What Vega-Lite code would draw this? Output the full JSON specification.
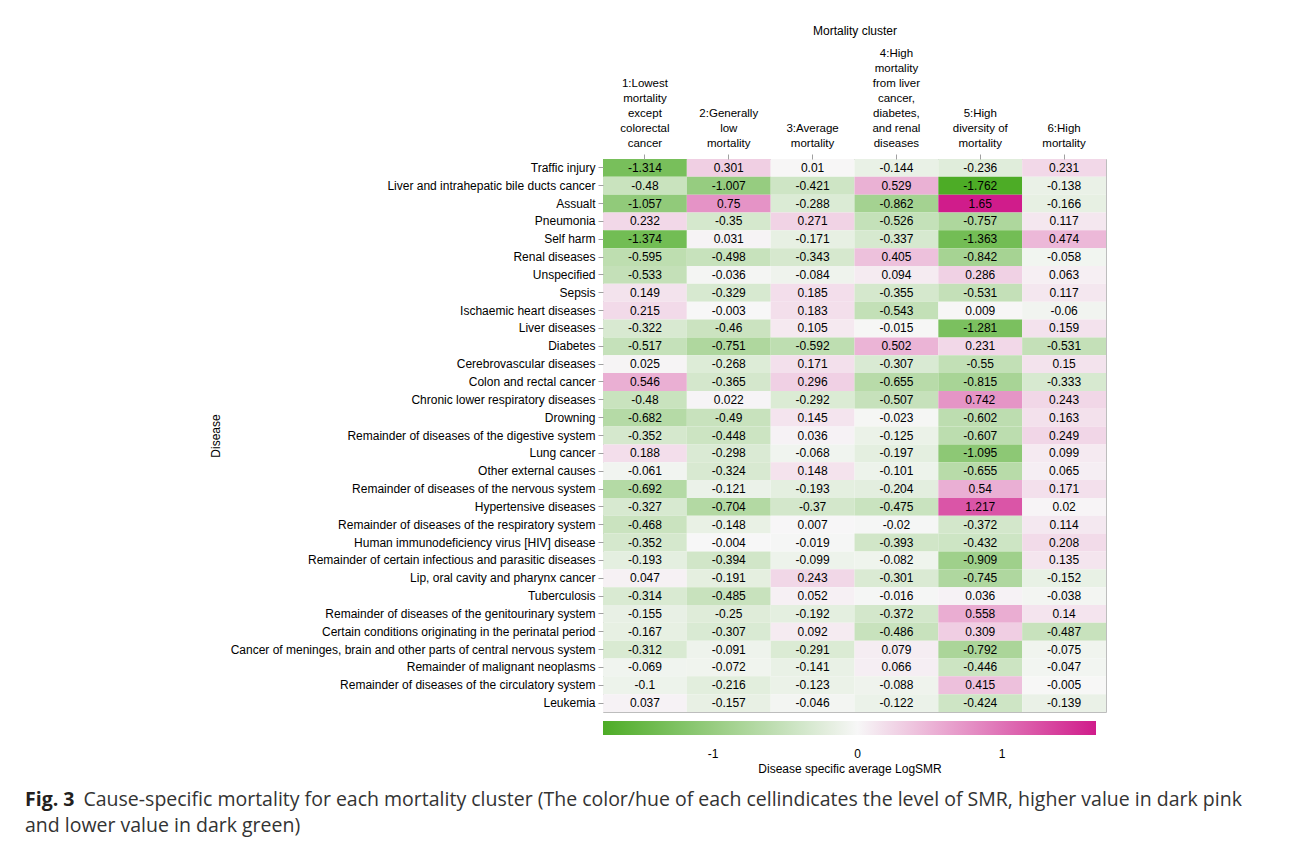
{
  "$schema": "https://vega.github.io/schema/vega-lite/v6.json",
  "width": 503,
  "height": 553,
  "padding": {"left": 25, "top": 24, "right": 5, "bottom": 8},
  "background": "white",
  "datasets": {
    "cells": [
      {"disease": "Traffic injury", "cluster": "1", "logsmr": -1.314},
      {"disease": "Traffic injury", "cluster": "2", "logsmr": 0.301},
      {"disease": "Traffic injury", "cluster": "3", "logsmr": 0.01},
      {"disease": "Traffic injury", "cluster": "4", "logsmr": -0.144},
      {"disease": "Traffic injury", "cluster": "5", "logsmr": -0.236},
      {"disease": "Traffic injury", "cluster": "6", "logsmr": 0.231},
      {"disease": "Liver and intrahepatic bile ducts cancer", "cluster": "1", "logsmr": -0.48},
      {"disease": "Liver and intrahepatic bile ducts cancer", "cluster": "2", "logsmr": -1.007},
      {"disease": "Liver and intrahepatic bile ducts cancer", "cluster": "3", "logsmr": -0.421},
      {"disease": "Liver and intrahepatic bile ducts cancer", "cluster": "4", "logsmr": 0.529},
      {"disease": "Liver and intrahepatic bile ducts cancer", "cluster": "5", "logsmr": -1.762},
      {"disease": "Liver and intrahepatic bile ducts cancer", "cluster": "6", "logsmr": -0.138},
      {"disease": "Assualt", "cluster": "1", "logsmr": -1.057},
      {"disease": "Assualt", "cluster": "2", "logsmr": 0.75},
      {"disease": "Assualt", "cluster": "3", "logsmr": -0.288},
      {"disease": "Assualt", "cluster": "4", "logsmr": -0.862},
      {"disease": "Assualt", "cluster": "5", "logsmr": 1.65},
      {"disease": "Assualt", "cluster": "6", "logsmr": -0.166},
      {"disease": "Pneumonia", "cluster": "1", "logsmr": 0.232},
      {"disease": "Pneumonia", "cluster": "2", "logsmr": -0.35},
      {"disease": "Pneumonia", "cluster": "3", "logsmr": 0.271},
      {"disease": "Pneumonia", "cluster": "4", "logsmr": -0.526},
      {"disease": "Pneumonia", "cluster": "5", "logsmr": -0.757},
      {"disease": "Pneumonia", "cluster": "6", "logsmr": 0.117},
      {"disease": "Self harm", "cluster": "1", "logsmr": -1.374},
      {"disease": "Self harm", "cluster": "2", "logsmr": 0.031},
      {"disease": "Self harm", "cluster": "3", "logsmr": -0.171},
      {"disease": "Self harm", "cluster": "4", "logsmr": -0.337},
      {"disease": "Self harm", "cluster": "5", "logsmr": -1.363},
      {"disease": "Self harm", "cluster": "6", "logsmr": 0.474},
      {"disease": "Renal diseases", "cluster": "1", "logsmr": -0.595},
      {"disease": "Renal diseases", "cluster": "2", "logsmr": -0.498},
      {"disease": "Renal diseases", "cluster": "3", "logsmr": -0.343},
      {"disease": "Renal diseases", "cluster": "4", "logsmr": 0.405},
      {"disease": "Renal diseases", "cluster": "5", "logsmr": -0.842},
      {"disease": "Renal diseases", "cluster": "6", "logsmr": -0.058},
      {"disease": "Unspecified", "cluster": "1", "logsmr": -0.533},
      {"disease": "Unspecified", "cluster": "2", "logsmr": -0.036},
      {"disease": "Unspecified", "cluster": "3", "logsmr": -0.084},
      {"disease": "Unspecified", "cluster": "4", "logsmr": 0.094},
      {"disease": "Unspecified", "cluster": "5", "logsmr": 0.286},
      {"disease": "Unspecified", "cluster": "6", "logsmr": 0.063},
      {"disease": "Sepsis", "cluster": "1", "logsmr": 0.149},
      {"disease": "Sepsis", "cluster": "2", "logsmr": -0.329},
      {"disease": "Sepsis", "cluster": "3", "logsmr": 0.185},
      {"disease": "Sepsis", "cluster": "4", "logsmr": -0.355},
      {"disease": "Sepsis", "cluster": "5", "logsmr": -0.531},
      {"disease": "Sepsis", "cluster": "6", "logsmr": 0.117},
      {"disease": "Ischaemic heart diseases", "cluster": "1", "logsmr": 0.215},
      {"disease": "Ischaemic heart diseases", "cluster": "2", "logsmr": -0.003},
      {"disease": "Ischaemic heart diseases", "cluster": "3", "logsmr": 0.183},
      {"disease": "Ischaemic heart diseases", "cluster": "4", "logsmr": -0.543},
      {"disease": "Ischaemic heart diseases", "cluster": "5", "logsmr": 0.009},
      {"disease": "Ischaemic heart diseases", "cluster": "6", "logsmr": -0.06},
      {"disease": "Liver diseases", "cluster": "1", "logsmr": -0.322},
      {"disease": "Liver diseases", "cluster": "2", "logsmr": -0.46},
      {"disease": "Liver diseases", "cluster": "3", "logsmr": 0.105},
      {"disease": "Liver diseases", "cluster": "4", "logsmr": -0.015},
      {"disease": "Liver diseases", "cluster": "5", "logsmr": -1.281},
      {"disease": "Liver diseases", "cluster": "6", "logsmr": 0.159},
      {"disease": "Diabetes", "cluster": "1", "logsmr": -0.517},
      {"disease": "Diabetes", "cluster": "2", "logsmr": -0.751},
      {"disease": "Diabetes", "cluster": "3", "logsmr": -0.592},
      {"disease": "Diabetes", "cluster": "4", "logsmr": 0.502},
      {"disease": "Diabetes", "cluster": "5", "logsmr": 0.231},
      {"disease": "Diabetes", "cluster": "6", "logsmr": -0.531},
      {"disease": "Cerebrovascular diseases", "cluster": "1", "logsmr": 0.025},
      {"disease": "Cerebrovascular diseases", "cluster": "2", "logsmr": -0.268},
      {"disease": "Cerebrovascular diseases", "cluster": "3", "logsmr": 0.171},
      {"disease": "Cerebrovascular diseases", "cluster": "4", "logsmr": -0.307},
      {"disease": "Cerebrovascular diseases", "cluster": "5", "logsmr": -0.55},
      {"disease": "Cerebrovascular diseases", "cluster": "6", "logsmr": 0.15},
      {"disease": "Colon and rectal cancer", "cluster": "1", "logsmr": 0.546},
      {"disease": "Colon and rectal cancer", "cluster": "2", "logsmr": -0.365},
      {"disease": "Colon and rectal cancer", "cluster": "3", "logsmr": 0.296},
      {"disease": "Colon and rectal cancer", "cluster": "4", "logsmr": -0.655},
      {"disease": "Colon and rectal cancer", "cluster": "5", "logsmr": -0.815},
      {"disease": "Colon and rectal cancer", "cluster": "6", "logsmr": -0.333},
      {"disease": "Chronic lower respiratory diseases", "cluster": "1", "logsmr": -0.48},
      {"disease": "Chronic lower respiratory diseases", "cluster": "2", "logsmr": 0.022},
      {"disease": "Chronic lower respiratory diseases", "cluster": "3", "logsmr": -0.292},
      {"disease": "Chronic lower respiratory diseases", "cluster": "4", "logsmr": -0.507},
      {"disease": "Chronic lower respiratory diseases", "cluster": "5", "logsmr": 0.742},
      {"disease": "Chronic lower respiratory diseases", "cluster": "6", "logsmr": 0.243},
      {"disease": "Drowning", "cluster": "1", "logsmr": -0.682},
      {"disease": "Drowning", "cluster": "2", "logsmr": -0.49},
      {"disease": "Drowning", "cluster": "3", "logsmr": 0.145},
      {"disease": "Drowning", "cluster": "4", "logsmr": -0.023},
      {"disease": "Drowning", "cluster": "5", "logsmr": -0.602},
      {"disease": "Drowning", "cluster": "6", "logsmr": 0.163},
      {"disease": "Remainder of diseases of the digestive system", "cluster": "1", "logsmr": -0.352},
      {"disease": "Remainder of diseases of the digestive system", "cluster": "2", "logsmr": -0.448},
      {"disease": "Remainder of diseases of the digestive system", "cluster": "3", "logsmr": 0.036},
      {"disease": "Remainder of diseases of the digestive system", "cluster": "4", "logsmr": -0.125},
      {"disease": "Remainder of diseases of the digestive system", "cluster": "5", "logsmr": -0.607},
      {"disease": "Remainder of diseases of the digestive system", "cluster": "6", "logsmr": 0.249},
      {"disease": "Lung cancer", "cluster": "1", "logsmr": 0.188},
      {"disease": "Lung cancer", "cluster": "2", "logsmr": -0.298},
      {"disease": "Lung cancer", "cluster": "3", "logsmr": -0.068},
      {"disease": "Lung cancer", "cluster": "4", "logsmr": -0.197},
      {"disease": "Lung cancer", "cluster": "5", "logsmr": -1.095},
      {"disease": "Lung cancer", "cluster": "6", "logsmr": 0.099},
      {"disease": "Other external causes", "cluster": "1", "logsmr": -0.061},
      {"disease": "Other external causes", "cluster": "2", "logsmr": -0.324},
      {"disease": "Other external causes", "cluster": "3", "logsmr": 0.148},
      {"disease": "Other external causes", "cluster": "4", "logsmr": -0.101},
      {"disease": "Other external causes", "cluster": "5", "logsmr": -0.655},
      {"disease": "Other external causes", "cluster": "6", "logsmr": 0.065},
      {"disease": "Remainder of diseases of the nervous system", "cluster": "1", "logsmr": -0.692},
      {"disease": "Remainder of diseases of the nervous system", "cluster": "2", "logsmr": -0.121},
      {"disease": "Remainder of diseases of the nervous system", "cluster": "3", "logsmr": -0.193},
      {"disease": "Remainder of diseases of the nervous system", "cluster": "4", "logsmr": -0.204},
      {"disease": "Remainder of diseases of the nervous system", "cluster": "5", "logsmr": 0.54},
      {"disease": "Remainder of diseases of the nervous system", "cluster": "6", "logsmr": 0.171},
      {"disease": "Hypertensive diseases", "cluster": "1", "logsmr": -0.327},
      {"disease": "Hypertensive diseases", "cluster": "2", "logsmr": -0.704},
      {"disease": "Hypertensive diseases", "cluster": "3", "logsmr": -0.37},
      {"disease": "Hypertensive diseases", "cluster": "4", "logsmr": -0.475},
      {"disease": "Hypertensive diseases", "cluster": "5", "logsmr": 1.217},
      {"disease": "Hypertensive diseases", "cluster": "6", "logsmr": 0.02},
      {"disease": "Remainder of diseases of the respiratory system", "cluster": "1", "logsmr": -0.468},
      {"disease": "Remainder of diseases of the respiratory system", "cluster": "2", "logsmr": -0.148},
      {"disease": "Remainder of diseases of the respiratory system", "cluster": "3", "logsmr": 0.007},
      {"disease": "Remainder of diseases of the respiratory system", "cluster": "4", "logsmr": -0.02},
      {"disease": "Remainder of diseases of the respiratory system", "cluster": "5", "logsmr": -0.372},
      {"disease": "Remainder of diseases of the respiratory system", "cluster": "6", "logsmr": 0.114},
      {"disease": "Human immunodeficiency virus [HIV] disease", "cluster": "1", "logsmr": -0.352},
      {"disease": "Human immunodeficiency virus [HIV] disease", "cluster": "2", "logsmr": -0.004},
      {"disease": "Human immunodeficiency virus [HIV] disease", "cluster": "3", "logsmr": -0.019},
      {"disease": "Human immunodeficiency virus [HIV] disease", "cluster": "4", "logsmr": -0.393},
      {"disease": "Human immunodeficiency virus [HIV] disease", "cluster": "5", "logsmr": -0.432},
      {"disease": "Human immunodeficiency virus [HIV] disease", "cluster": "6", "logsmr": 0.208},
      {"disease": "Remainder of certain infectious and parasitic diseases", "cluster": "1", "logsmr": -0.193},
      {"disease": "Remainder of certain infectious and parasitic diseases", "cluster": "2", "logsmr": -0.394},
      {"disease": "Remainder of certain infectious and parasitic diseases", "cluster": "3", "logsmr": -0.099},
      {"disease": "Remainder of certain infectious and parasitic diseases", "cluster": "4", "logsmr": -0.082},
      {"disease": "Remainder of certain infectious and parasitic diseases", "cluster": "5", "logsmr": -0.909},
      {"disease": "Remainder of certain infectious and parasitic diseases", "cluster": "6", "logsmr": 0.135},
      {"disease": "Lip, oral cavity and pharynx cancer", "cluster": "1", "logsmr": 0.047},
      {"disease": "Lip, oral cavity and pharynx cancer", "cluster": "2", "logsmr": -0.191},
      {"disease": "Lip, oral cavity and pharynx cancer", "cluster": "3", "logsmr": 0.243},
      {"disease": "Lip, oral cavity and pharynx cancer", "cluster": "4", "logsmr": -0.301},
      {"disease": "Lip, oral cavity and pharynx cancer", "cluster": "5", "logsmr": -0.745},
      {"disease": "Lip, oral cavity and pharynx cancer", "cluster": "6", "logsmr": -0.152},
      {"disease": "Tuberculosis", "cluster": "1", "logsmr": -0.314},
      {"disease": "Tuberculosis", "cluster": "2", "logsmr": -0.485},
      {"disease": "Tuberculosis", "cluster": "3", "logsmr": 0.052},
      {"disease": "Tuberculosis", "cluster": "4", "logsmr": -0.016},
      {"disease": "Tuberculosis", "cluster": "5", "logsmr": 0.036},
      {"disease": "Tuberculosis", "cluster": "6", "logsmr": -0.038},
      {"disease": "Remainder of diseases of the genitourinary system", "cluster": "1", "logsmr": -0.155},
      {"disease": "Remainder of diseases of the genitourinary system", "cluster": "2", "logsmr": -0.25},
      {"disease": "Remainder of diseases of the genitourinary system", "cluster": "3", "logsmr": -0.192},
      {"disease": "Remainder of diseases of the genitourinary system", "cluster": "4", "logsmr": -0.372},
      {"disease": "Remainder of diseases of the genitourinary system", "cluster": "5", "logsmr": 0.558},
      {"disease": "Remainder of diseases of the genitourinary system", "cluster": "6", "logsmr": 0.14},
      {"disease": "Certain conditions originating in the perinatal period", "cluster": "1", "logsmr": -0.167},
      {"disease": "Certain conditions originating in the perinatal period", "cluster": "2", "logsmr": -0.307},
      {"disease": "Certain conditions originating in the perinatal period", "cluster": "3", "logsmr": 0.092},
      {"disease": "Certain conditions originating in the perinatal period", "cluster": "4", "logsmr": -0.486},
      {"disease": "Certain conditions originating in the perinatal period", "cluster": "5", "logsmr": 0.309},
      {"disease": "Certain conditions originating in the perinatal period", "cluster": "6", "logsmr": -0.487},
      {"disease": "Cancer of meninges, brain and other parts of central nervous system", "cluster": "1", "logsmr": -0.312},
      {"disease": "Cancer of meninges, brain and other parts of central nervous system", "cluster": "2", "logsmr": -0.091},
      {"disease": "Cancer of meninges, brain and other parts of central nervous system", "cluster": "3", "logsmr": -0.291},
      {"disease": "Cancer of meninges, brain and other parts of central nervous system", "cluster": "4", "logsmr": 0.079},
      {"disease": "Cancer of meninges, brain and other parts of central nervous system", "cluster": "5", "logsmr": -0.792},
      {"disease": "Cancer of meninges, brain and other parts of central nervous system", "cluster": "6", "logsmr": -0.075},
      {"disease": "Remainder of malignant neoplasms", "cluster": "1", "logsmr": -0.069},
      {"disease": "Remainder of malignant neoplasms", "cluster": "2", "logsmr": -0.072},
      {"disease": "Remainder of malignant neoplasms", "cluster": "3", "logsmr": -0.141},
      {"disease": "Remainder of malignant neoplasms", "cluster": "4", "logsmr": 0.066},
      {"disease": "Remainder of malignant neoplasms", "cluster": "5", "logsmr": -0.446},
      {"disease": "Remainder of malignant neoplasms", "cluster": "6", "logsmr": -0.047},
      {"disease": "Remainder of diseases of the circulatory system", "cluster": "1", "logsmr": -0.1},
      {"disease": "Remainder of diseases of the circulatory system", "cluster": "2", "logsmr": -0.216},
      {"disease": "Remainder of diseases of the circulatory system", "cluster": "3", "logsmr": -0.123},
      {"disease": "Remainder of diseases of the circulatory system", "cluster": "4", "logsmr": -0.088},
      {"disease": "Remainder of diseases of the circulatory system", "cluster": "5", "logsmr": 0.415},
      {"disease": "Remainder of diseases of the circulatory system", "cluster": "6", "logsmr": -0.005},
      {"disease": "Leukemia", "cluster": "1", "logsmr": 0.037},
      {"disease": "Leukemia", "cluster": "2", "logsmr": -0.157},
      {"disease": "Leukemia", "cluster": "3", "logsmr": -0.046},
      {"disease": "Leukemia", "cluster": "4", "logsmr": -0.122},
      {"disease": "Leukemia", "cluster": "5", "logsmr": -0.424},
      {"disease": "Leukemia", "cluster": "6", "logsmr": -0.139}
    ]
  },
  "data": {"name": "cells"},
  "title": {
    "text": "Fig. 3",
    "subtitle": ["\u200b\u2003\u2003\u2003Cause-specific mortality for each mortality cluster (The color/hue of each cellindicates the level of SMR, higher value in dark pink", "and lower value in dark green)"],
    "orient": "bottom",
    "anchor": "start",
    "frame": "group",
    "dx": -578,
    "offset": 16,
    "font": "Open Sans",
    "fontSize": 19.5,
    "fontWeight": "bold",
    "color": "#231f20",
    "subtitleFont": "Open Sans",
    "subtitleFontSize": 19.5,
    "subtitleFontWeight": "normal",
    "subtitleColor": "#333333",
    "subtitleLineHeight": 26,
    "subtitlePadding": -19.5
  },
  "encoding": {
    "x": {
      "field": "cluster",
      "type": "nominal",
      "sort": null,
      "axis": {
        "orient": "top",
        "title": "Mortality cluster",
        "titlePadding": 10,
        "labelAngle": 0,
        "labelFontSize": 11.5,
        "labelLineHeight": 15,
        "labelBaseline": "bottom",
        "maxExtent": 400,
        "labelPadding": {
          "condition": [
            {"test": "datum.value == '1'", "value": 66},
            {"test": "datum.value == '4'", "value": 96},
            {"test": "datum.value == '2' || datum.value == '5'", "value": 36}
          ],
          "value": 21
        },
        "labelExpr": "datum.value == '1' ? ['1:Lowest','mortality','except','colorectal','cancer'] : datum.value == '2' ? ['2:Generally','low','mortality'] : datum.value == '3' ? ['3:Average','mortality'] : datum.value == '4' ? ['4:High','mortality','from liver','cancer,','diabetes,','and renal','diseases'] : datum.value == '5' ? ['5:High','diversity of','mortality'] : ['6:High','mortality']"
      }
    },
    "y": {
      "field": "disease",
      "type": "nominal",
      "sort": null,
      "axis": {
        "title": "Disease",
        "titlePadding": 8,
        "labelFontSize": 12,
        "labelLimit": 600,
        "labelPadding": 3,
        "maxExtent": 600
      }
    }
  },
  "layer": [
    {
      "mark": {"type": "rect"},
      "encoding": {
        "color": {
          "field": "logsmr",
          "type": "quantitative",
          "scale": {
            "domain": [-1.762, 0, 1.65],
            "range": ["#4dac26", "#f7f7f7", "#d01c8b"],
            "interpolate": "rgb",
            "zero": false,
            "nice": false
          },
          "legend": {
            "orient": "bottom",
            "direction": "horizontal",
            "title": "Disease specific average LogSMR",
            "titleOrient": "bottom",
            "titleAnchor": "middle",
            "titleFontSize": 12,
            "titleFontWeight": "normal",
            "titleColor": "#000",
            "titlePadding": 4,
            "titleLimit": 600,
            "gradientLength": 493,
            "gradientThickness": 14,
            "values": [-1, 0, 1],
            "format": "d",
            "labelFontSize": 12,
            "labelColor": "#000",
            "labelOffset": 14,
            "labelExpr": "replace(datum.label, '\u2212', '-')",
            "offset": 9
          }
        }
      }
    },
    {
      "mark": {"type": "text", "fontSize": 12, "color": "#000"},
      "encoding": {
        "text": {"field": "logsmr", "type": "nominal"}
      }
    }
  ],
  "config": {
    "font": "Liberation Sans",
    "view": {"stroke": "#bdbdbd"},
    "axis": {
      "domain": false,
      "tickColor": "#a0a0a0",
      "tickSize": 5,
      "labelColor": "#000",
      "titleColor": "#000",
      "titleFontSize": 12,
      "titleFontWeight": "normal",
      "labelFont": "Liberation Sans",
      "titleFont": "Liberation Sans"
    },
    "legend": {"labelFont": "Liberation Sans", "titleFont": "Liberation Sans"}
  }
}
